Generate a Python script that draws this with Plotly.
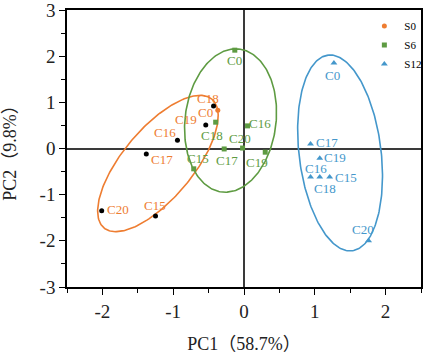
import numpy as np
import plotly.graph_objects as go

# ---------------- data ----------------
samples = ["C0", "C15", "C16", "C17", "C18", "C19", "C20"]

s0_pc1 = [-0.37, -1.25, -0.94, -1.38, -0.43, -0.54, -2.01]
s0_pc2 = [0.83, -1.46, 0.18, -0.12, 0.92, 0.51, -1.35]

s6_pc1 = [-0.13, -0.71, 0.05, -0.28, -0.40, 0.30, -0.02]
s6_pc2 = [2.13, -0.44, 0.49, -0.01, 0.57, -0.08, 0.01]

s12_pc1 = [1.27, 1.21, 0.94, 0.94, 1.07, 1.07, 1.76]
s12_pc2 = [1.85, -0.62, -0.62, 0.10, -0.62, -0.21, -2.00]

group_names = ["S0", "S6", "S12"]

# confidence ellipses: centre (PC1, PC2), semi-axes (screen px), angle (deg)
ell_center_x = [-1.216, -0.19, 1.357]
ell_center_y = [-0.325, 0.606, -0.097]
ell_semi_a = [84, 72, 98.6]
ell_semi_b = [35, 45.5, 41]
ell_angle = [50, 83, 97]

x_ticks = [-2, -1, 0, 1, 2]
y_ticks = [-3, -2, -1, 0, 1, 2, 3]

# ---------------- style ----------------
ORANGE = "#EE7D31"
GREEN = "#5E9B42"
BLUE = "#4497CB"
colors = [ORANGE, GREEN, BLUE]
FONT = "Liberation Serif, Times New Roman, Noto Sans CJK SC, serif"

# label offsets in px (right, down) relative to each point
s0_off = [(-12, 2), (-1, -10), (-12, -8), (16, 5), (-6, -8), (-20, -5), (16, -1)]
s6_off = [(0, 10), (4, -10), (12, -2), (3, 12), (-4, 13), (-8, 10), (-3, -10)]
s12_off = [(-1, 12), (16, 0), (5, -9), (16, -1), (5, 11), (15, -1), (-6, -11)]

W, H = 423, 360
ML, MR, MT, MB = 67, 2, 10, 73
XR = [-2.5, 2.5]
YR = [-3, 3]
px_per_x = (W - ML - MR) / (XR[1] - XR[0])
px_per_y = (H - MT - MB) / (YR[1] - YR[0])

fig = go.Figure()

# ellipses
t = np.linspace(0, 2 * np.pi, 240)
for i in range(3):
    th = np.deg2rad(ell_angle[i])
    a, b = ell_semi_a[i], ell_semi_b[i]
    dx = a * np.cos(t) * np.cos(th) - b * np.sin(t) * np.sin(th)
    dy = a * np.cos(t) * np.sin(th) + b * np.sin(t) * np.cos(th)
    fig.add_trace(go.Scatter(
        x=ell_center_x[i] + dx / px_per_x,
        y=ell_center_y[i] + dy / px_per_y,
        mode="lines", line=dict(color=colors[i], width=1.6),
        showlegend=False, hoverinfo="skip"))

s0_colors = [ORANGE] + ["black"] * 6
groups = [
    (s0_pc1, s0_pc2, "circle", 5, s0_colors, ORANGE, s0_off),
    (s6_pc1, s6_pc2, "square", 5, GREEN, GREEN, s6_off),
    (s12_pc1, s12_pc2, "triangle-up", 6, BLUE, BLUE, s12_off),
]
for gi, (xs, ys, sym, sz, mc, tc, offs) in enumerate(groups):
    fig.add_trace(go.Scatter(
        x=xs, y=ys, mode="markers", name=group_names[gi], text=samples,
        marker=dict(symbol=sym, size=sz, color=mc)))
    for xv, yv, lab, (ox, oy) in zip(xs, ys, samples, offs):
        fig.add_annotation(x=xv, y=yv, text=lab, showarrow=False,
                           xshift=ox, yshift=-oy,
                           font=dict(family=FONT, size=13, color=tc))

axis_common = dict(
    showline=True, linecolor="black", linewidth=1.5, mirror=True,
    ticks="outside", ticklen=6, tickwidth=1.2, tickcolor="black",
    showgrid=False, zeroline=True, zerolinecolor="#3a3a3a", zerolinewidth=2,
    tickfont=dict(family=FONT, size=19, color="#222"),
    minor=dict(ticks="outside", ticklen=4, tickwidth=1, tickcolor="black", dtick=0.5),
    automargin=False, ticklabeloverflow="allow",
)

fig.update_layout(
    width=W, height=H,
    margin=dict(l=ML, r=MR, t=MT, b=MB, autoexpand=False),
    paper_bgcolor="white", plot_bgcolor="white",
    font=dict(family=FONT, color="#222"),
    xaxis=dict(range=XR, tickvals=x_ticks, ticktext=[str(v) for v in x_ticks],
               title=dict(text="PC1（58.7%）", font=dict(family=FONT, size=18), standoff=17),
               **axis_common),
    yaxis=dict(range=YR, tickvals=y_ticks, ticktext=[str(v) for v in y_ticks],
               title=dict(text="PC2（9.8%）", font=dict(family=FONT, size=18), standoff=22),
               **axis_common),
    legend=dict(x=0.84, y=0.995, xanchor="left", yanchor="top",
                bgcolor="rgba(0,0,0,0)", font=dict(family=FONT, size=11, color="black"),
                itemwidth=30, tracegroupgap=0),
    showlegend=True,
)

fig.write_html("out.html", config={"displayModeBar": False},
               post_script="document.body.style.margin='0';")
